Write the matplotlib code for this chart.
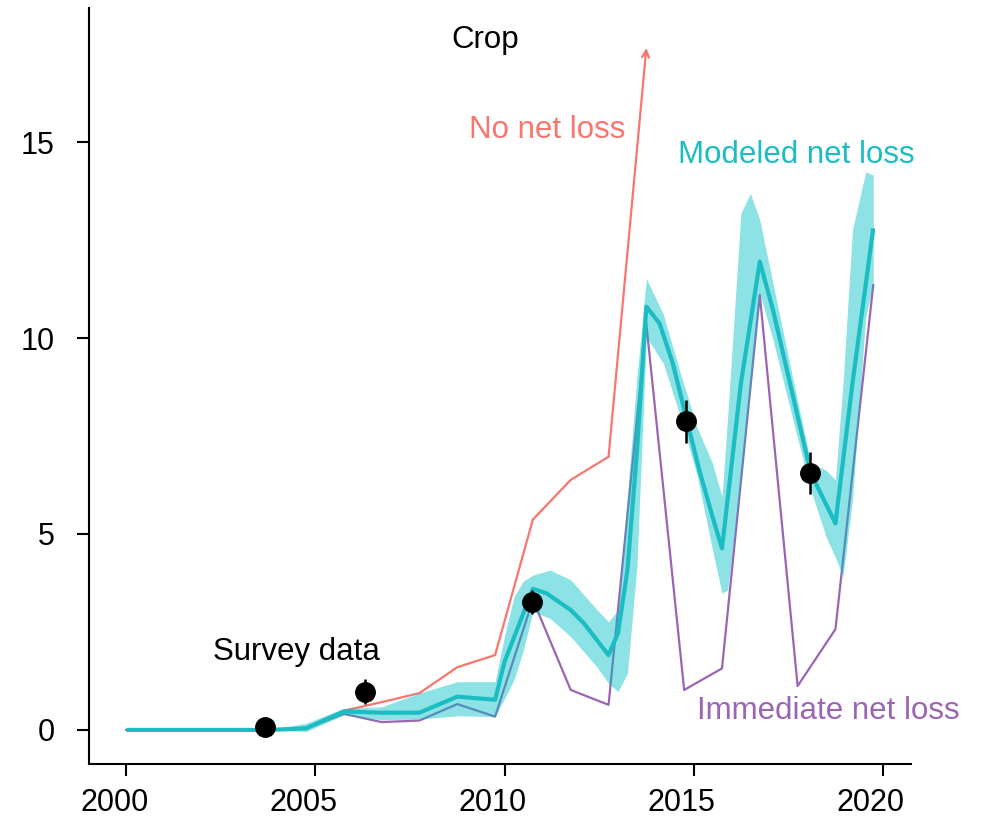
import numpy as np
import matplotlib
matplotlib.use("Agg")
import matplotlib.pyplot as plt
from matplotlib.transforms import ScaledTranslation

plt.rcParams['font.family'] = ['Liberation Sans', 'DejaVu Sans']

# yearly series (values sit at 0.75 of each year)
line_years = [2000.0, 2001.75, 2002.75, 2003.75, 2004.75, 2005.75, 2006.75, 2007.75,
              2008.75, 2009.75, 2010.75, 2011.75, 2012.75, 2013.75, 2014.75, 2015.75,
              2016.75, 2017.75, 2018.75, 2019.75]
no_net_loss = [0, 0, 0, 0, 0.05, 0.49, 0.71, 0.94, 1.60, 1.91, 5.37, 6.38, 6.97, 17.4]
immediate_loss = [0, 0, 0, 0, 0.04, 0.41, 0.20, 0.24, 0.66, 0.34, 3.32, 1.02, 0.64, 10.35,
                  1.02, 1.57, 11.1, 1.12, 2.57, 11.35]

# modeled net loss, median
model_x = [2000.0, 2003.75, 2004.75, 2005.75, 2006.75, 2007.75, 2008.75, 2009.75, 2010.0,
           2010.5, 2010.75, 2011.1, 2011.75, 2012.1, 2012.75, 2013.0, 2013.25, 2013.5,
           2013.75, 2014.1, 2014.45, 2014.8, 2015.15, 2015.5, 2015.75, 2016.25, 2016.75,
           2017.1, 2017.65, 2018.1, 2018.75, 2019.2, 2019.75]
model_y = [0, 0, 0.04, 0.47, 0.44, 0.44, 0.85, 0.77, 1.74, 2.98, 3.6, 3.49, 3.06, 2.72,
           1.91, 2.47, 4.08, 7.1, 10.8, 10.37, 9.35, 7.99, 6.63, 5.44, 4.63, 8.84, 11.95,
           10.71, 8.42, 6.55, 5.27, 8.84, 12.8]

# modeled net loss, uncertainty band
band_x = [2000.0, 2003.75, 2004.75, 2005.75, 2006.75, 2007.75, 2008.75, 2009.75, 2010.0,
          2010.25, 2010.5, 2010.75, 2011.2, 2011.75, 2012.45, 2012.75, 2013.0, 2013.25,
          2013.5, 2013.75, 2014.2, 2014.65, 2015.1, 2015.5, 2015.75, 2015.9, 2016.25,
          2016.5, 2016.75, 2017.1, 2017.65, 2018.1, 2018.5, 2018.75, 2018.95, 2019.2,
          2019.55, 2019.75]
band_lo = [0, 0, -0.04, 0.38, 0.26, 0.28, 0.36, 0.34, 0.8, 1.28, 2.04, 3.02, 2.85, 2.38,
           1.6, 1.19, 0.98, 1.45, 4.17, 10.03, 9.35, 7.99, 6.46, 4.59, 3.49, 3.57, 6.36,
           8.75, 11.14, 9.95, 7.82, 6.12, 4.93, 4.4, 3.91, 5.87, 10.54, 11.39]
band_hi = [0, 0, 0.17, 0.55, 0.59, 0.94, 1.23, 1.23, 2.4, 3.4, 3.8, 3.95, 4.08, 3.83,
           3.06, 2.76, 3.06, 6.0, 9.0, 11.52, 10.6, 9.1, 7.7, 6.8, 5.95, 8.0, 13.18,
           13.69, 13.01, 11.39, 8.84, 6.8, 6.63, 6.38, 8.84, 12.76, 14.24, 14.16]

# survey estimates with standard errors
survey_x = [2003.66, 2006.30, 2010.72, 2014.80, 2018.08]
survey_y = [0.08, 0.98, 3.27, 7.87, 6.55]
survey_err = [0.05, 0.32, 0.30, 0.55, 0.54]

red = '#F8766D'
cyan = '#1CBDC2'
purple = '#9A65B3'

fig = plt.figure(figsize=(9.84, 8.25), dpi=100)
ax = fig.add_axes([0.0904, 0.0739, 0.8351, 0.9164])

n = len(no_net_loss)
ax.plot(line_years[:n - 1], no_net_loss[:n - 1], color=red, lw=1.6, zorder=2,
        solid_joinstyle='round')
ax.annotate('', xy=(line_years[n - 1], no_net_loss[n - 1]),
            xytext=(line_years[n - 2], no_net_loss[n - 2]),
            arrowprops=dict(arrowstyle='->,head_length=0.5,head_width=0.25',
                            color=red, lw=1.6, shrinkA=0, shrinkB=0), zorder=2)
ax.plot(line_years, immediate_loss, color=purple, lw=1.6, zorder=2, solid_joinstyle='round')
ax.fill_between(band_x, band_lo, band_hi, color='#00BFC4', alpha=0.45, lw=0, zorder=3)
ax.plot(model_x, model_y, color=cyan, lw=3.0, zorder=4, solid_joinstyle='round',
        solid_capstyle='butt')
ax.errorbar(survey_x, survey_y, yerr=survey_err, fmt='o', color='black', ms=14,
            elinewidth=1.8, capsize=0, zorder=5)

fs = 22.5
ax.text(2009.48, 17.6, 'Crop', ha='center', va='center', fontsize=fs, color='black')
ax.text(2011.14, 15.31, 'No net loss', ha='center', va='center', fontsize=fs, color=red)
ax.text(2017.72, 14.68, 'Modeled net loss', ha='center', va='center', fontsize=fs, color=cyan)
ax.text(2018.57, 0.48, 'Immediate net loss', ha='center', va='center', fontsize=fs, color=purple)
ax.text(2004.49, 2.0, 'Survey data', ha='center', va='center', fontsize=fs, color='black')

ax.set_xlim(1999.01, 2020.74)
ax.set_ylim(-0.87, 18.42)
ax.set_xticks([2000, 2005, 2010, 2015, 2020])
ax.set_yticks([0, 5, 10, 15])
for s in ['top', 'right']:
    ax.spines[s].set_visible(False)
for s in ['left', 'bottom']:
    ax.spines[s].set_linewidth(1.5)
ax.tick_params(axis='both', length=8.5, width=1.5, labelsize=22)
ax.tick_params(axis='x', pad=9)
ax.tick_params(axis='y', pad=16)

# year labels sit a little left of their ticks
shift = ScaledTranslation(-12 / 100, 0, fig.dpi_scale_trans)
for lab in ax.get_xticklabels():
    lab.set_transform(lab.get_transform() + shift)

fig.savefig('out.png', dpi=100)
